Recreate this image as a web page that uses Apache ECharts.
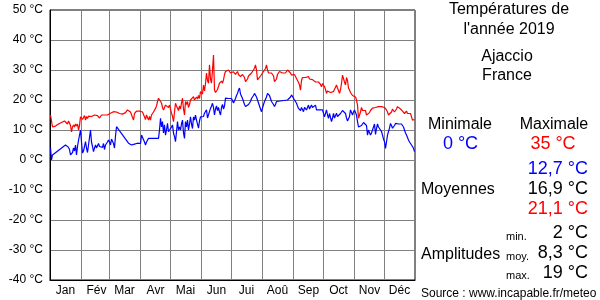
<!DOCTYPE html>
<html><head><meta charset="utf-8">
<script src="https://cdn.jsdelivr.net/npm/echarts@6/dist/echarts.min.js"></script>
<style>html,body{margin:0;padding:0;background:#fff}#c{width:600px;height:300px}</style>
</head><body><div id="c"></div><script>
// Month labels
const months = ['Jan','Fév','Mar','Avr','Mai','Jun','Jui','Aoû','Sep','Oct','Nov','Déc'];
// Y axis ticks (°C)
const yMin = -40, yMax = 50, yStep = 10;

// Daily maximum temperatures (°C)
const maxJan = [15,13,11,10.8,11,11.3,11.5,11.7,12,12,12.3,12.5,12.7,12.5,13,12.7,13.3,12,13,12.3,11.5,9.4,11,11.7,11,12,11.3,12,10,11.5,14.4];
const maxFeb = [14.5,13.5,14,14.8,13.3,14.5,13.8,14.6,14,15,14.5,14.8,15,15,15,15,14.8,14.5,14,13.9,15,15.3,15,15,15.3,15.5,15,15.3];
const maxMar = [15.3,15.6,16,15.8,16.1,16,15.8,16,15.6,15.8,15.5,15.3,15.6,15.3,15.2,15.5,15.8,16.3,16.7,16.9,16.4,16,15.5,15.8,13.3,15.5,16,16.3,15.8,16,16.3];
const maxApr = [16,16.2,16,15.8,15.5,13.5,15,15.5,13.3,14.5,13.3,15,15.5,16,16.5,17.2,18,19.5,20.6,21,20,19,17.5,16.7,17.5,18.3,18.9,18,17.5,18.3];
const maxMay = [17.8,15.6,14.5,12.8,16,18.9,18,17.5,16.5,18,17,19,20.6,17,15,19.5,18.5,19.5,17.5,18.5,20,19.5,20.6,21.1,20,19.5,21,20.3,21.5,20.5,22.8];
const maxJun = [22.8,22,25,23,25.5,29,26.5,25.6,31.7,27,25.6,30,35,23.3,22.5,22.2,23.5,24,25.6,26,26.3,25.6,26.7,28.5,29.5,30,29.5,30,29.5,29];
const maxJul = [29,28.5,29.4,29.5,28.5,29,29.5,28.5,29,27.8,28,28.5,28,27.5,26.1,26.5,27,28,28,28.5,29,29.5,29,30.6,31.7,30,26.7,27,26.5,28,28.5];
const maxAug = [29,28.5,29.5,30.5,31.7,30,29,29.5,28.5,29,29.5,28,26.1,26.5,27,28.5,29,29.5,29,29.5,29,28.5,28.9,29,29.5,30,30.3,29.5,29,28.3,28.5];
const maxSep = [28.3,28.5,27.8,27.2,26.5,25.8,25,23.3,26.5,27.5,27.8,28,27.5,27.2,27.5,27.8,27,26.5,26.5,26.8,26.7,26.5,26,25.5,26,26,25.5,25.2,24.4,25.5];
const maxOct = [25.5,24.5,23.5,22.2,23,23.5,23,22.5,22.8,22.5,22.8,22.5,23,25,24,23.5,22.2,23.5,25.5,28.3,27.8,26,25,27.5,26.5,24,23.3,22.5,22.8,21.5,21.7];
const maxNov = [21.7,21,20,18.3,13.9,14.5,16,17.5,16.5,16,17,16.5,15,15.5,14.5,15.8,16.5,16.5,17.3,17.5,17,17.5,17.5,18,17.8,17.5,18,17.8,18,17.8];
const maxDec = [17.5,17,16.7,16,15,14.4,15,16,17,16.5,16,16.5,17,17.8,17.5,17.3,17,16.7,16.3,16,15.5,16,16.3,15.5,15.8,16,15.5,15,13.3,13.3,13.5];

// Daily minimum temperatures (°C); null = missing day
const minJan = [4,0,1.7,null,null,null,null,null,null,null,null,null,null,null,null,5,4.5,5,4.2,3.5,1.7,1.1,2.5,4,3,5,1.7,4.5,6.5,7,10];
const minFeb = [6.1,2.3,3,4.5,6.1,4,2.5,5,5.5,10,6,4.5,2.8,4,5,4,3.5,5.5,4.5,5,4,4.2,5.5,3.5,5,4.5,6,6.7];
const minMar = [6,5,7,6.5,5.5,4,8,11.1,null,null,null,null,null,null,null,null,null,null,null,5.6,5.3,5.6,5,5.3,5.6,5.3,5,5.3,5.6,5,5.5];
const minApr = [5.5,8.3,8,8.3,6,5,6,6.5,7.2,null,null,null,null,null,null,null,null,null,7.2,10,13.9,11,12.8,9,11.7,8.3,10,12.2,9.4,10];
const minMay = [10,11,11.7,9,7.8,6.1,9.4,12.8,10,11,10,12,13.3,9,7.2,12.8,11,13.3,10,12,14.4,12,10.5,14.4,13.3,15,13.3,12.8,10.6,13,14.4];
const minJun = [14.4,15,14.5,15.6,15,16.7,14,13.5,14.5,17.2,18,18.9,17.5,15,17,18,16.5,17.5,16,15,17.5,18.5,17,18,20.6,20,21.1,20.5,21,20.3];
const minJul = [20.5,20,19,19.5,20.5,21.5,22.2,23.3,24,22,21.5,20.5,19.5,18.5,17.8,17.2,17.5,18.5,19,19.5,20.5,21,21.5,22.2,22.8,21,20,19,18.5,17,16.1];
const minAug = [16.7,18.5,19.5,20,21,22.2,22.8,21.5,20.5,19.5,19,18.5,17.8,18.5,19.5,20,20,null,null,null,null,null,null,null,null,20,20.5,20.3,21,21.7,21.2];
const minSep = [20.6,21,20,18.9,18,17.2,16.7,16.5,17.5,17,16.1,17.5,17.8,16.7,17.5,18.3,17,16.7,18.3,17.5,17.5,18,18.3,16.7,17,17.2,16.7,16.7,17.2,16.7];
const minOct = [16.1,14.4,15,16.7,15,13.9,15.5,15,12.8,14,15.5,14,13.5,15.6,14.5,14,15,15.5,15.6,16.5,16.7,16,15.5,14,13,12.5,14.5,16.7,16.5,15,16];
const minNov = [16.7,17.2,15,12.8,11,10.6,10.6,11.5,12,12.5,12.2,12,11.5,8.3,10,9.5,8.3,9,10,11,12,8.5,10.5,12,11,10.5,11,9.5,8.3,7];
const minDec = [6.1,3.9,6,8.3,9.5,10.6,12.2,11.5,10.6,11,11.5,12.2,11.8,11.7,12,11.7,12,12,11.8,11,10,9,8.3,7.5,6.7,6,5.6,5,4.5,3.9,2.8];

const maxMonths = [maxJan,maxFeb,maxMar,maxApr,maxMay,maxJun,maxJul,maxAug,maxSep,maxOct,maxNov,maxDec];
const minMonths = [minJan,minFeb,minMar,minApr,minMay,minJun,minJul,minAug,minSep,minOct,minNov,minDec];

const cats = [], tmax = [], tmin = [], monthStart = new Set(), labelAt = {};
months.forEach((m, i) => {
  monthStart.add(cats.length);
  labelAt[cats.length + 15] = m;
  maxMonths[i].forEach((v, d) => {
    cats.push((d + 1) + ' ' + m);
    tmax.push(v);
    tmin.push(minMonths[i][d]);
  });
});

const F = '"Liberation Sans", Arial, sans-serif';
function txt(text, x, y, size, fill, align) {
  return { type: 'text', silent: true, style: { text: text, x: x, y: y, font: size + 'px ' + F, fill: fill || '#000', textAlign: align || 'center', textVerticalAlign: 'middle' } };
}

const chart = echarts.init(document.getElementById('c'), null, { renderer: 'canvas' });
chart.setOption({
  animation: false,
  backgroundColor: '#fff',
  grid: { left: 50, right: 185, top: 10, bottom: 20, show: true, borderColor: '#000', borderWidth: 1, backgroundColor: 'transparent' },
  xAxis: {
    type: 'category', data: cats, boundaryGap: true,
    axisLine: { show: true, onZero: false, lineStyle: { color: '#000', width: 1 } },
    axisTick: { show: false },
    splitLine: { show: true, interval: (idx) => monthStart.has(idx) && idx > 0, lineStyle: { color: '#808080', width: 1 } },
    axisLabel: { interval: (idx) => labelAt[idx] !== undefined, formatter: (v, idx) => labelAt[idx] || '', color: '#000', fontSize: 12, fontFamily: F, margin: 5 }
  },
  yAxis: {
    type: 'value', min: yMin, max: yMax, interval: yStep,
    axisLine: { show: true, lineStyle: { color: '#000', width: 1 } },
    axisTick: { show: false },
    splitLine: { show: true, lineStyle: { color: '#808080', width: 1 } },
    axisLabel: { formatter: '{value} °C', color: '#000', fontSize: 12, fontFamily: F, margin: 7 }
  },
  series: [
    { name: 'min', type: 'line', data: tmin, showSymbol: false, connectNulls: true, lineStyle: { color: '#0000ff', width: 1.2 }, itemStyle: { color: '#0000ff' } },
    { name: 'max', type: 'line', data: tmax, showSymbol: false, connectNulls: true, lineStyle: { color: '#ff0000', width: 1.2 }, itemStyle: { color: '#ff0000' } }
  ],
  graphic: [
    txt('Températures de', 509, 10, 16),
    txt("l'année 2019", 509, 29.5, 16),
    txt('Ajaccio', 507, 57, 16),
    txt('France', 507, 76, 16),
    txt('Minimale', 460, 125, 16),
    txt('Maximale', 554, 125, 16),
    txt('0 °C', 460.5, 144, 18, '#0000ff'),
    txt('35 °C', 553, 144, 18, '#ff0000'),
    txt('12,7 °C', 588, 169, 18, '#0000ff', 'right'),
    txt('Moyennes', 421, 189.5, 16, '#000', 'left'),
    txt('16,9 °C', 588, 189, 18, '#000', 'right'),
    txt('21,1 °C', 588, 209, 18, '#ff0000', 'right'),
    txt('min.', 506, 237, 11, '#000', 'left'),
    txt('2 °C', 588, 233, 18, '#000', 'right'),
    txt('Amplitudes', 421, 255, 16, '#000', 'left'),
    txt('moy.', 506, 257, 11, '#000', 'left'),
    txt('8,3 °C', 588, 253, 18, '#000', 'right'),
    txt('max.', 506, 276, 11, '#000', 'left'),
    txt('19 °C', 588, 273, 18, '#000', 'right'),
    txt('Source : www.incapable.fr/meteo', 421, 294, 12, '#000', 'left')
  ]
});
</script></body></html>
